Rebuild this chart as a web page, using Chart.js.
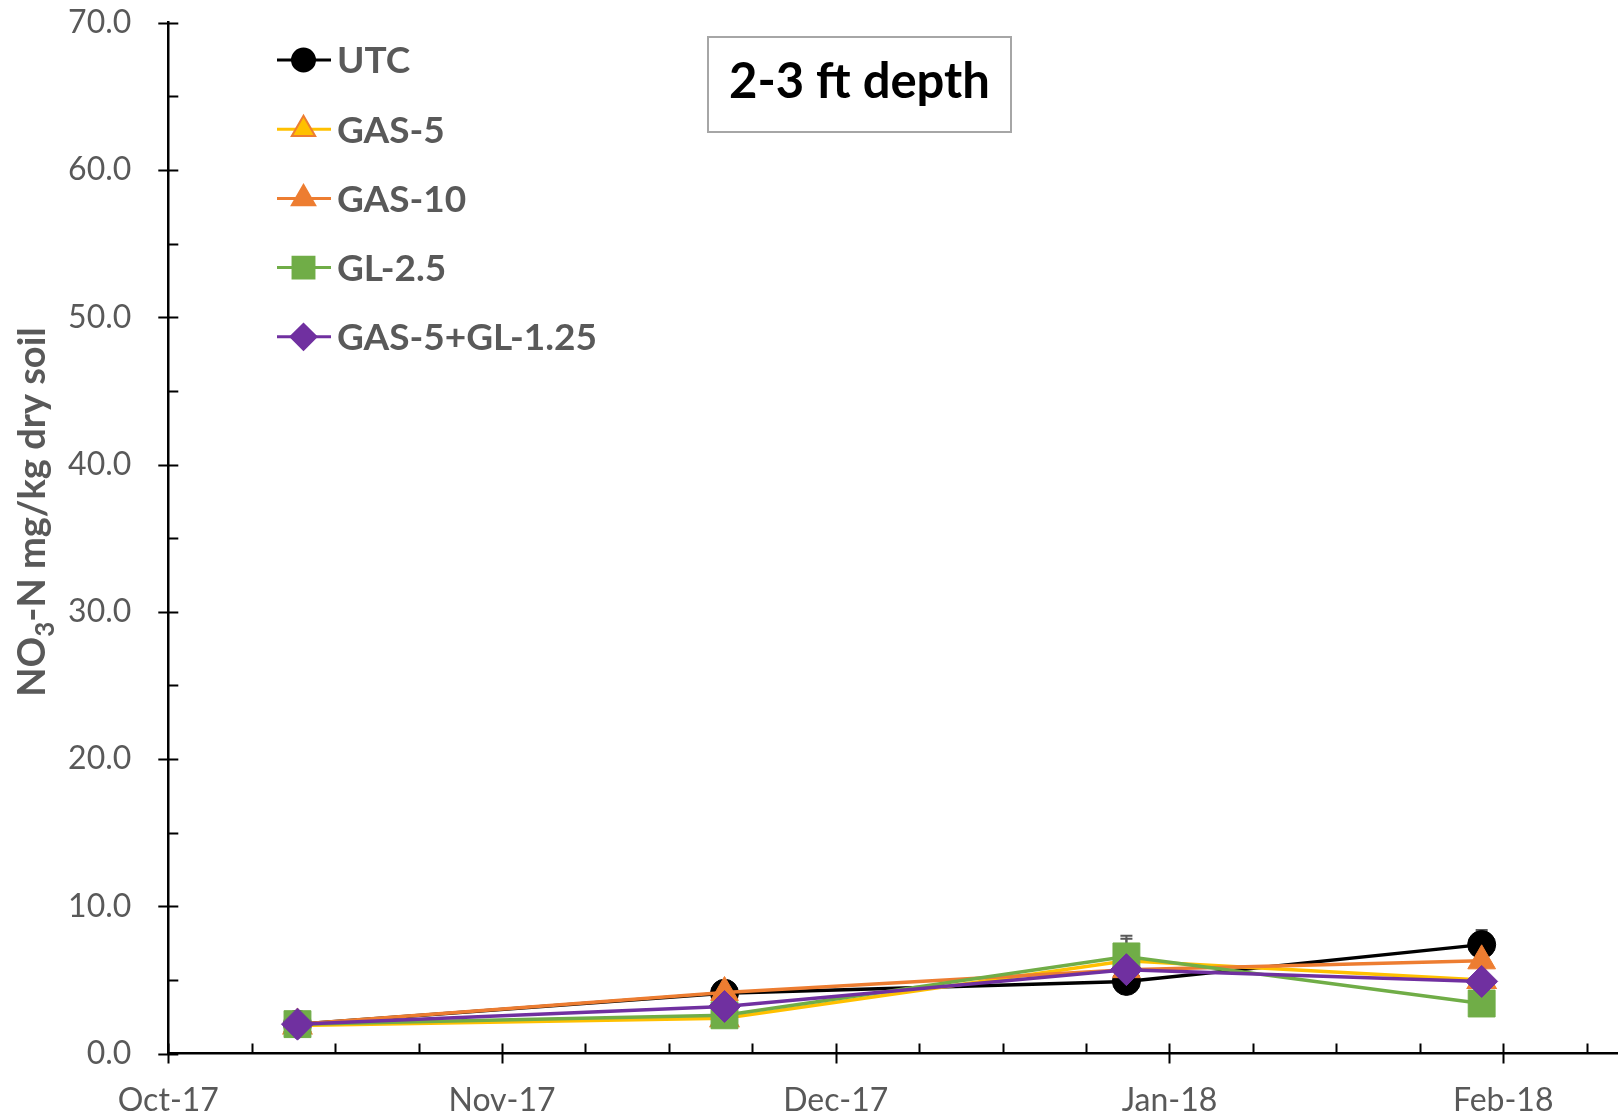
<!DOCTYPE html>
<html>
<head>
<meta charset="utf-8">
<title>NO3-N 2-3 ft depth</title>
<script src="https://cdn.jsdelivr.net/npm/chart.js@4.4.1/dist/chart.umd.min.js"></script>
<style>
  html, body { margin: 0; padding: 0; background: #fff; overflow: hidden; }
  #wrap { width: 1618px; height: 1119px; position: relative; }
</style>
</head>
<body>
<div id="wrap"><canvas id="chart" width="1618" height="1119"></canvas></div>
<script>
// --- datos ---
const monthLabels = ['Oct-17', 'Nov-17', 'Dec-17', 'Jan-18', 'Feb-18'];
const sampleDates = ['2017-10-13', '2017-11-21', '2017-12-28', '2018-01-30'];

const utc      = [2.0, 4.1, 4.9, 7.4];
const gas5     = [1.9, 2.4, 6.3, 5.0];
const gas10    = [2.0, 4.15, 5.7, 6.3];
const gl25     = [2.0, 2.6, 6.6, 3.4];
const gas5gl   = [2.0, 3.2, 5.7, 4.9];

// barras de error (solo se ve la parte superior)
const utcErr    = [0.2, 0.5, 0.3, 1.0];
const gas5Err   = [0.2, 0.3, 1.5, 0.4];
const gas10Err  = [0.2, 0.4, 0.5, 0.5];
const gl25Err   = [0.2, 0.3, 1.4, 0.5];
const gas5glErr = [0.2, 0.4, 0.6, 0.4];

const yMin = 0, yMax = 70, yStep = 10;
const depthLabel = '2-3 ft depth';

// posición en "meses desde Oct-17" (el eje de Excel tiene meses iguales)
function monthPos(s) {
  const [y, m, d] = s.split('-').map(Number);
  const idx = (y - 2017) * 12 + (m - 1) - 9;
  const dim = new Date(y, m, 0).getDate();
  return idx + (d - 1) / dim;
}
const xs = sampleDates.map(monthPos);
const pts = arr => arr.map((v, i) => ({ x: xs[i], y: v }));

const FONT = 'Lato, Carlito, "DejaVu Sans", sans-serif';
const GREY = '#595959';

const series = [
  { label: 'UTC', data: utc, err: utcErr, line: '#000000', fill: '#000000', edge: '#000000', style: 'circle', r: 14, lr: 11.5 },
  { label: 'GAS-5', data: gas5, err: gas5Err, line: '#FFC000', fill: '#FFC000', edge: '#ED7D31', style: 'triangle', r: 16, lr: 13.5 },
  { label: 'GAS-10', data: gas10, err: gas10Err, line: '#ED7D31', fill: '#ED7D31', edge: '#ED7D31', style: 'triangle', r: 16, lr: 13.5 },
  { label: 'GL-2.5', data: gl25, err: gl25Err, line: '#70AD47', fill: '#70AD47', edge: '#70AD47', style: 'rect', r: 19, lr: 15.5 },
  { label: 'GAS-5+GL-1.25', data: gas5gl, err: gas5glErr, line: '#7030A0', fill: '#7030A0', edge: '#7030A0', style: 'rectRot', r: 16, lr: 13 }
];

// marcas de eje, barras de error, leyenda, recuadro y título del eje Y
const decor = {
  id: 'decor',
  beforeDatasetsDraw(chart) {
    const ctx = chart.ctx, xS = chart.scales.x, yS = chart.scales.y;
    const a = chart.chartArea;
    ctx.save();
    ctx.strokeStyle = '#000';
    ctx.lineWidth = 2;
    ctx.beginPath();
    // x: mayores cruzan el eje, menores hacia dentro
    for (let k = 0; k / 4 <= xS.max; k++) {
      const px = Math.round(xS.getPixelForValue(k / 4)) + 0.5;
      if (k % 4 === 0) { ctx.moveTo(px, a.bottom - 10); ctx.lineTo(px, a.bottom + 10); }
      else { ctx.moveTo(px, a.bottom - 10); ctx.lineTo(px, a.bottom); }
    }
    // y
    for (let v = yMin; v <= yMax; v += yStep / 2) {
      const py = Math.round(yS.getPixelForValue(v)) + 0.5;
      if (v % yStep === 0) { ctx.moveTo(a.left - 10, py); ctx.lineTo(a.left + 10, py); }
      else { ctx.moveTo(a.left, py); ctx.lineTo(a.left + 10, py); }
    }
    ctx.stroke();

    // barras de error debajo de las series
    ctx.strokeStyle = GREY;
    ctx.lineWidth = 2;
    series.forEach((s, di) => {
      const meta = chart.getDatasetMeta(di);
      meta.data.forEach((pt, i) => {
        const top = yS.getPixelForValue(s.data[i] + s.err[i]);
        ctx.beginPath();
        ctx.moveTo(pt.x, pt.y);
        ctx.lineTo(pt.x, top);
        ctx.moveTo(pt.x - 6, top);
        ctx.lineTo(pt.x + 6, top);
        ctx.stroke();
      });
    });
    ctx.restore();
  },
  afterDraw(chart) {
    const ctx = chart.ctx;
    ctx.save();

    // leyenda dentro del área
    const lx0 = 277, lx1 = 331, mx = 303.5, tx = 337, y0 = 60, dy = 69.2;
    ctx.font = 'bold 37px ' + FONT;
    ctx.textBaseline = 'alphabetic';
    ctx.textAlign = 'left';
    series.forEach((s, i) => {
      const y = y0 + i * dy;
      ctx.strokeStyle = s.line;
      ctx.lineWidth = 3;
      ctx.beginPath();
      ctx.moveTo(lx0, y); ctx.lineTo(lx1, y);
      ctx.stroke();
      ctx.fillStyle = s.fill;
      ctx.strokeStyle = s.edge;
      ctx.lineWidth = 2;
      Chart.helpers.drawPoint(ctx, { pointStyle: s.style, radius: s.lr, rotation: 0, borderWidth: 2 }, mx, y);
      ctx.fillStyle = GREY;
      ctx.fillText(s.label, tx, y + 13.3);
    });

    // recuadro "2-3 ft depth"
    ctx.strokeStyle = '#A6A6A6';
    ctx.lineWidth = 2;
    ctx.fillStyle = '#fff';
    ctx.fillRect(708, 37, 303, 95);
    ctx.strokeRect(708, 37, 303, 95);
    ctx.fillStyle = '#000';
    ctx.font = 'bold 49px ' + FONT;
    ctx.textAlign = 'center';
    ctx.fillText(depthLabel, 859.5, 97.5);

    // título del eje Y con subíndice
    ctx.translate(31, 512);
    ctx.rotate(-Math.PI / 2);
    const big = 'bold 38px ' + FONT, small = 'bold 26px ' + FONT;
    const p1 = 'NO', p2 = '3', p3 = '-N mg/kg dry soil';
    ctx.font = big; const w1 = ctx.measureText(p1).width, w3 = ctx.measureText(p3).width;
    ctx.font = small; const w2 = ctx.measureText(p2).width;
    let x = -(w1 + w2 + w3) / 2;
    ctx.textAlign = 'left';
    ctx.fillStyle = GREY;
    ctx.font = big; ctx.fillText(p1, x, 13.7); x += w1;
    ctx.font = small; ctx.fillText(p2, x, 22.5); x += w2;
    ctx.font = big; ctx.fillText(p3, x, 13.7);

    ctx.restore();
  }
};

function build() {
  const ctx = document.getElementById('chart').getContext('2d');
  new Chart(ctx, {
    type: 'line',
    data: {
      datasets: series.map((s, i) => ({
        label: s.label,
        data: pts(s.data),
        borderColor: s.line,
        backgroundColor: s.fill,
        borderWidth: 3.5,
        pointStyle: s.style,
        pointRadius: s.r,
        pointBackgroundColor: s.fill,
        pointBorderColor: s.edge,
        pointBorderWidth: s.edge === s.fill ? 1 : 2,
        tension: 0,
        fill: false,
        order: series.length - i
      }))
    },
    options: {
      responsive: false,
      animation: false,
      events: [],
      layout: { autoPadding: false, padding: { top: 22.7, right: 0, bottom: 0, left: 0 } },
      plugins: { legend: { display: false }, tooltip: { enabled: false }, title: { display: false } },
      scales: {
        x: {
          type: 'linear',
          min: 0,
          max: 4.344,
          grid: { display: false, drawTicks: false },
          border: { display: true, color: '#000', width: 2.5 },
          afterBuildTicks: sc => { sc.ticks = monthLabels.map((_, i) => ({ value: i })); },
          afterFit: sc => { sc.height = 65.4; sc.paddingLeft = 0; sc.paddingRight = 0; },
          ticks: {
            autoSkip: false,
            maxRotation: 0,
            padding: 28,
            color: GREY,
            font: { family: FONT, size: 32 },
            callback: v => monthLabels[v] ?? ''
          }
        },
        y: {
          min: yMin,
          max: yMax,
          grid: { display: false, drawTicks: false },
          border: { display: true, color: '#000', width: 2.5 },
          afterFit: sc => { sc.width = 168.3; sc.paddingTop = 0; sc.paddingBottom = 0; },
          ticks: {
            stepSize: yStep,
            padding: 37,
            color: GREY,
            font: { family: FONT, size: 32 },
            callback: v => v.toFixed(1)
          }
        }
      }
    },
    plugins: [decor]
  });
}

const fontsReady = document.fonts
  ? Promise.all(['32px Lato', 'bold 37px Lato', 'bold 49px Lato'].map(f => document.fonts.load(f))).catch(() => null)
  : Promise.resolve();
fontsReady.then(build, build);
</script>
</body>
</html>
